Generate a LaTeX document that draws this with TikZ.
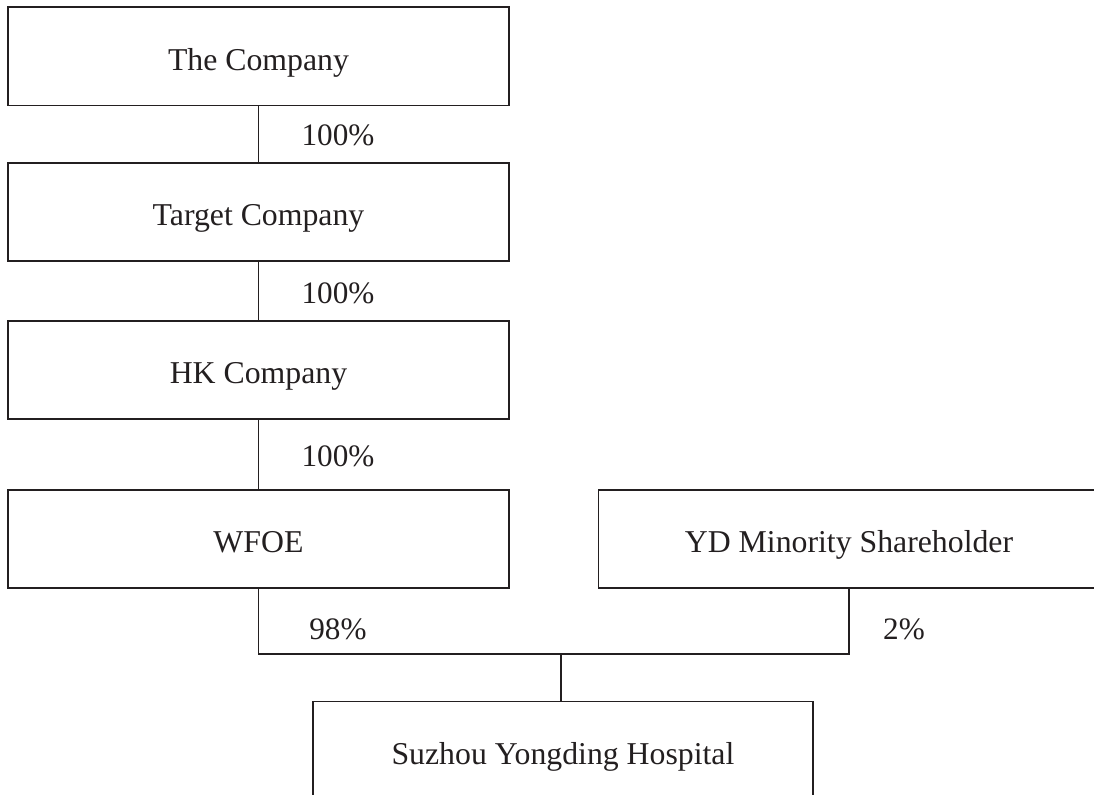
\documentclass[tikz,border=0pt]{standalone}
\usepackage{fontspec}
\setmainfont{Liberation Serif}
\usepackage{xcolor}
\definecolor{inkline}{HTML}{231F20}

\begin{document}
\begin{tikzpicture}[x=0.025cm,y=-0.025cm,
                    entity/.style={shape=rectangle,draw=inkline,line width=1.1pt,inner sep=0pt,
                                   minimum width=12.525cm,minimum height=2.46cm,
                                   text height=20pt,text depth=0.2pt,
                                   font=\fontsize{22.6}{27}\selectfont,text=inkline},
                    share/.style={inner sep=0pt,font=\fontsize{22.2}{26}\selectfont,text=inkline},
                    link/.style={draw=inkline,line width=1.1pt}]
                    \useasboundingbox (0,0) rectangle (1094,795);
                    \clip (0,0) rectangle (1094,795);

                    \node[entity] (comp) at (258.5,56.25) {The Company};
                    \node[entity] (target) at (258.5,212) {Target Company};
                    \node[entity] (hk) at (258.5,370) {HK Company};
                    \node[entity] (wfoe) at (258.5,539) {WFOE};
                    \node[entity] (yd) at (849,539) {YD Minority Shareholder};
                    \node[entity,minimum width=12.5cm] (hosp) at (563,750.5) {Suzhou Yongding Hospital};

                    \node[share] (p1) at (338,135) {100\%};
                    \node[share] (p2) at (338,293) {100\%};
                    \node[share] (p3) at (338,456) {100\%};
                    \node[share] (p4) at (338,629) {98\%};
                    \node[share] (p5) at (904,629) {2\%};

                    \coordinate (jn) at (561,654);

                    \draw[link] (comp.south) -- (target.north);
                    \draw[link] (target.south) -- (hk.north);
                    \draw[link] (hk.south) -- (wfoe.north);
                    \draw[link] (wfoe.south) |- (jn) -| (yd.south);
                    \draw[link] (jn) -- (jn |- hosp.north);
                \end{tikzpicture}
\end{document}
